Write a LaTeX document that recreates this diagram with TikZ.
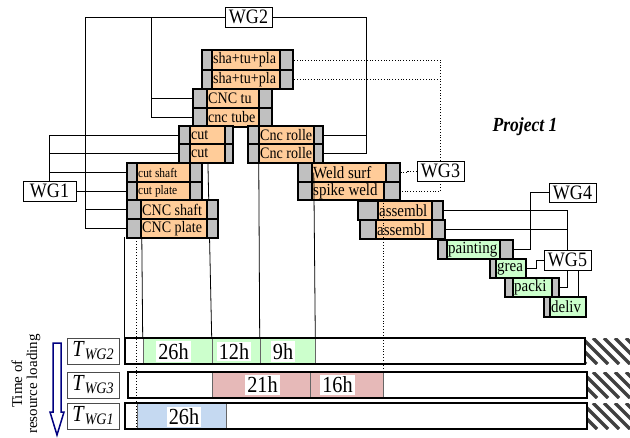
\documentclass[tikz,border=0pt]{standalone}
\usepackage{fontspec}
\setmainfont{Liberation Serif}[FakeStretch=0.88]
\newfontfamily\plainserif{Liberation Serif}
\definecolor{peach}{HTML}{FFCC99}
\definecolor{cellgray}{HTML}{C0C0C0}
\definecolor{lgreen}{HTML}{CCFFCC}
\definecolor{pinkbar}{HTML}{E6B9B8}
\definecolor{lblue}{HTML}{C5D9F1}
\definecolor{navyarrow}{HTML}{000080}
\newcommand{\fs}[1]{\fontsize{#1}{#1}\selectfont}
\newcommand{\tw}[1]{{\fs{23}\textit{T}}\raisebox{-3pt}{\fs{16}\textit{#1}}}
\newcommand{\task}[9]{%
  \filldraw[taskcell] (#2,#6) rectangle (#5,#7);
  \filldraw[taskcore, fill=#8] (#3,#6) rectangle (#4,#7);
  \node[tasktxt] (#1) at (#3,{(#6+#7)/2}) {#9};
  \coordinate (#1-w) at (#2,{(#6+#7)/2});
  \coordinate (#1-e) at (#5,{(#6+#7)/2});
  \coordinate (#1-t) at (#3,#6);
  \coordinate (#1-b) at (#2,#7);
}
\begin{document}
\begin{tikzpicture}[x=1pt, y=-1pt,
  link/.style={line width=0.8pt},
  dotlink/.style={line width=0.8pt, dotted},
  wg/.style={draw, line width=0.8pt, fill=white, minimum width=47pt, minimum height=20pt, inner sep=0pt, font=\fs{20.5}},
  taskcell/.style={fill=cellgray, draw=black, line width=1.4pt},
  taskcore/.style={draw=black, line width=1.2pt},
  tasktxt/.style={anchor=west, inner sep=1pt, font=\fs{16}},
  seg/.style={draw=black!60, line width=0.6pt, minimum height=26pt, inner sep=0pt},
  bar/.style={draw, line width=1.2pt, minimum height=26pt, inner sep=0pt},
  hrs/.style={fill=white, inner xsep=2pt, inner ysep=2pt, font=\fs{23}},
  rowlbl/.style={draw=black!70, line width=0.8pt, minimum width=52pt, minimum height=26pt, inner sep=0pt},
  hatch/.style={line width=3.5pt, black!75}]
\useasboundingbox (0,0) rectangle (630,437);
\node[seg, fill=lgreen, minimum width=69pt] (sA) at (177.5,351) {};
\node[seg, fill=lgreen, minimum width=48pt] (sB) at (236,351) {};
\node[seg, fill=lgreen, minimum width=55pt] (sC) at (287.5,351) {};
\node[seg, fill=pinkbar, minimum width=98pt] (sD) at (261,385) {};
\node[seg, fill=pinkbar, minimum width=73pt] (sE) at (346.5,385) {};
\node[seg, fill=lblue, minimum width=89pt] (sF) at (181.5,416) {};
\node[hrs] (hA) at (173.5,351.5) {26h};
\node[hrs] (hB) at (234,351.5) {12h};
\node[hrs] (hC) at (283,351.5) {9h};
\node[hrs] (hD) at (262.5,385) {21h};
\node[hrs] (hE) at (337.5,385) {16h};
\node[hrs] (hF) at (184,417) {26h};
\foreach \r in {338,372,403} {
  \begin{scope}
    \clip (586,\r) rectangle (632,\r+26);
    \foreach \k in {0,11,...,77} \draw[hatch] (586-26+\k,\r) -- ++(26,26);
  \end{scope}
}
\node[bar, minimum width=460pt] (barA) at (355,351) {};
\node[bar, minimum width=459pt] (barB) at (357.5,385) {};
\node[bar, minimum width=462pt] (barC) at (356,416) {};
\node[rowlbl] (lA) at (93,351) {\tw{WG2}};
\node[rowlbl] (lB) at (93,385) {\tw{WG3}};
\node[rowlbl] (lC) at (93,416) {\tw{WG1}};
\node[rotate=90, align=center, font=\plainserif\fs{15}] (tload) at (26,384) {Time of\\resource loading};
\draw[navyarrow, line width=1.5pt] (53,343) -- (61,343) -- (61,412) -- (64,412) -- (57,435) -- (50,412) -- (53,412) -- cycle;
\draw[link] (barA.north west) -- ++(0,-100);
\draw[link] (sA.north west) -- ++(-1,-110);
\draw[link] (sB.north west) -- ++(-4,-185);
\draw[link] (sC.north west) -- ++(-1,-185);
\draw[dotlink] (sF.south west) -- ++(0,-192);
\task{shaA}{202}{212}{280}{293}{50}{70}{peach}{sha+tu+pla}
\task{shaB}{202}{212}{280}{293}{70}{89}{peach}{sha+tu+pla}
\task{cnctu}{193}{207}{259}{272}{89}{108}{peach}{CNC tu}
\task{cnctube}{193}{207}{259}{272}{108}{127}{peach}{cnc tube}
\task{cutA}{179}{190}{225}{233}{126}{144}{peach}{cut}
\task{cutB}{179}{190}{225}{233}{144}{163}{peach}{cut}
\task{rolleA}{248}{259}{314}{323}{126}{144}{peach}{Cnc rolle}
\task{rolleB}{248}{259}{314}{323}{144}{163}{peach}{Cnc rolle}
\task{cutshaft}{127}{137}{190}{202}{163}{182}{peach}{\fs{13}cut shaft}
\task{cutplate}{127}{137}{190}{202}{182}{200}{peach}{\fs{13}cut plate}
\task{cncshaft}{127}{141}{207}{218}{200}{219}{peach}{CNC shaft}
\task{cncplate}{127}{141}{207}{218}{219}{238}{peach}{CNC plate}
\task{weld}{298}{312}{386}{400}{163}{182}{peach}{\fs{17}Weld surf}
\task{spike}{298}{312}{384}{400}{182}{200}{peach}{\fs{17}spike weld}
\task{asmA}{358}{378}{432}{443}{201}{220}{peach}{\fs{17}assembl}
\task{asmB}{360}{376}{432}{445}{220}{239}{peach}{\fs{17}assembl}
\task{paint}{438}{447}{500}{513}{240}{259}{lgreen}{\fs{17}painting}
\task{grea}{490}{496}{526}{526}{259}{278}{lgreen}{\fs{17}grea}
\task{packi}{505}{513}{552}{559}{278}{297}{lgreen}{\fs{17}packi}
\task{deliv}{544}{550}{586}{586}{297}{317}{lgreen}{\fs{17}deliv}
\draw[link] (sC.north east) -- ([xshift=-1.5pt]sC.north east |- weld-w);
\draw[dotlink] (sE.north east) -- (sE.north east |- weld-b);
\node[wg] (WG2) at (248.5,17) {WG2};
\node[wg, minimum width=53pt] (WG1) at (49.5,191) {WG1};
\node[wg] (WG3) at (440.5,171) {WG3};
\node[wg, minimum height=19pt] (WG4) at (572.5,192.5) {WG4};
\node[wg] (WG5) at (567.5,260) {WG5};
\coordinate (wgtwoL) at (85,17);
\coordinate (wgtwoM) at (151,17);
\coordinate (wgtwoR) at (366,17);
\draw[link] (WG2.west) -- (wgtwoL) |- (cncplate-w);
\draw[link] (wgtwoL |- cncshaft-w) -- (cncshaft-w);
\draw[link] (wgtwoM) |- (cnctube-w);
\draw[link] (wgtwoM |- cnctu-w) -- (cnctu-w);
\draw[link] (WG2.east) -- (wgtwoR) |- (rolleB-e);
\draw[link] (wgtwoR |- rolleA-e) -- (rolleA-e);
\draw[link] (WG1.east) -- (cutplate-w);
\draw[link] (WG1.north) |- (cutA-w);
\draw[link] (WG1.north |- cutB-w) -- (cutB-w);
\draw[link] (WG1.north |- cutshaft-w) -- (cutshaft-w);
\draw[dotlink] (WG3.west) -- ++(-9,0) |- (weld-e);
\draw[dotlink] (WG3.north) |- (shaA-e);
\draw[dotlink] (WG3.north |- shaB-e) -- (shaB-e);
\draw[dotlink] (WG3.south) |- (spike-e);
\draw[link] (WG4.west) -- ++(-18,0) |- (paint-e);
\draw[link] (WG5.north) |- (asmA-e);
\draw[link] (WG5.north |- asmB-e) -- (asmB-e);
\draw[link] (WG5.south) |- (packi-e);
\draw[link] ([xshift=11pt]WG5.south) -- ([xshift=11pt]WG5.south |- deliv-t);
\draw[link] (WG5.west) -- ++(-7,0) |- (grea-e);
\node[font=\fs{20}\bfseries\itshape] (proj) at (525,127) {Project 1};
\end{tikzpicture}
\end{document}
